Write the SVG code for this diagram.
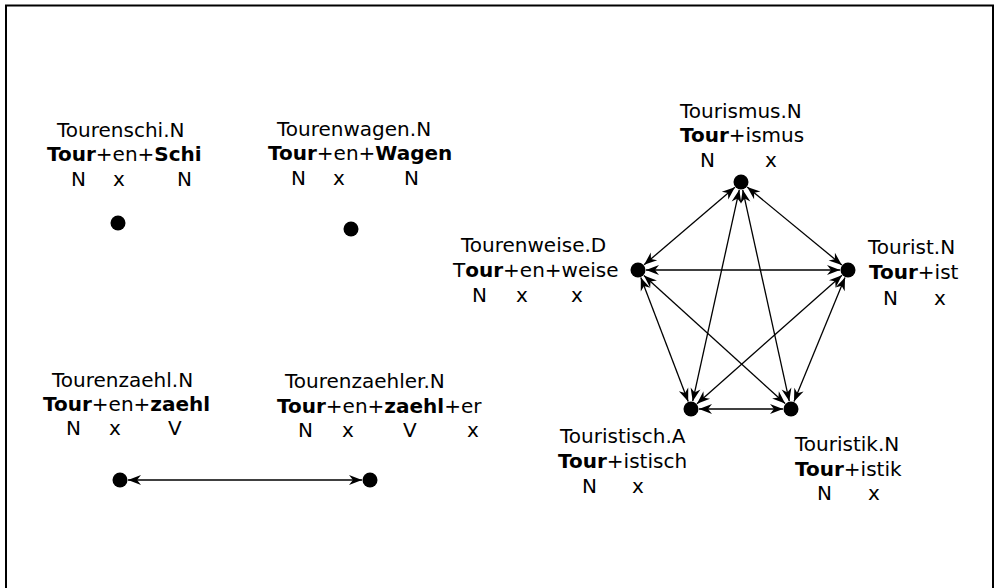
<svg xmlns="http://www.w3.org/2000/svg" width="994" height="588" viewBox="0 0 994 588">
<style>
text{font-family:"DejaVu Sans","Liberation Sans",sans-serif;font-size:20px;fill:#000}
.b{font-weight:bold}
.dot{fill:#000}
.e{stroke:#000;stroke-width:1.3;fill:none;marker-start:url(#ah);marker-end:url(#ah)}
</style>
<defs>
<marker id="ah" viewBox="-15 -7 16 14" markerWidth="16" markerHeight="14" refX="0" refY="0" orient="auto-start-reverse" markerUnits="userSpaceOnUse">
<path d="M0,0 L-13,-5 L-9,0 L-13,5 z" fill="#000"/>
</marker>
</defs>
<rect x="0" y="0" width="994" height="588" fill="#fff"/>
<rect x="6" y="5.5" width="987" height="600" fill="none" stroke="#000" stroke-width="2"/>
<g id="connectors">
<path class="e" d="M734.9,187.2 L644.1,264.8"/>
<path class="e" d="M747.2,187.1 L841.8,264.9"/>
<path class="e" d="M739.3,189.8 L692.7,401.2"/>
<path class="e" d="M742.7,189.8 L789.3,401.2"/>
<path class="e" d="M646,270 L840,270"/>
<path class="e" d="M640.8,277.5 L688.2,401.5"/>
<path class="e" d="M643.9,275.4 L785.1,403.6"/>
<path class="e" d="M842,275.3 L697,403.7"/>
<path class="e" d="M845,277.4 L794,401.6"/>
<path class="e" d="M699,409 L783,409"/>
<path class="e" d="M128,480 L362,480"/>
</g>
<g id="tourenschi">
<circle class="dot" cx="118" cy="223" r="7.5"/>
<text x="57" y="137">Tourenschi.N</text>
<text x="47" y="161"><tspan class="b">Tour</tspan>+en+<tspan class="b">Schi</tspan></text>
<text x="71" y="186">N</text><text x="113" y="186">x</text><text x="177" y="186">N</text>
</g>
<g id="tourenwagen">
<circle class="dot" cx="351" cy="229" r="7.5"/>
<text x="277" y="136">Tourenwagen.N</text>
<text x="268" y="160"><tspan class="b">Tour</tspan>+en+<tspan class="b">Wagen</tspan></text>
<text x="291" y="185">N</text><text x="333" y="185">x</text><text x="404" y="185">N</text>
</g>
<g id="tourenzaehl">
<circle class="dot" cx="120" cy="480" r="7.5"/>
<text x="52" y="387">Tourenzaehl.N</text>
<text x="43" y="411"><tspan class="b">Tour</tspan>+en+<tspan class="b">zaehl</tspan></text>
<text x="66" y="435">N</text><text x="109" y="435">x</text><text x="168" y="435">V</text>
</g>
<g id="tourenzaehler">
<circle class="dot" cx="370" cy="480" r="7.5"/>
<text x="285" y="388">Tourenzaehler.N</text>
<text x="277" y="413"><tspan class="b">Tour</tspan>+en+<tspan class="b">zaehl</tspan>+er</text>
<text x="298" y="437">N</text><text x="342" y="437">x</text><text x="403" y="437">V</text><text x="467" y="437">x</text>
</g>
<g id="tourismus">
<circle class="dot" cx="741" cy="182" r="7.5"/>
<text x="680" y="118">Tourismus.N</text>
<text x="680" y="142"><tspan class="b">Tour</tspan>+ismus</text>
<text x="700" y="167">N</text><text x="765" y="167">x</text>
</g>
<g id="tourenweise">
<circle class="dot" cx="638" cy="270" r="7.5"/>
<text x="461" y="252">Tourenweise.D</text>
<text x="453" y="277">T<tspan class="b">our</tspan>+en+weise</text>
<text x="472" y="302">N</text><text x="516" y="302">x</text><text x="571" y="302">x</text>
</g>
<g id="tourist">
<circle class="dot" cx="848" cy="270" r="7.5"/>
<text x="868" y="254">Tourist.N</text>
<text x="869" y="279"><tspan class="b">Tour</tspan>+ist</text>
<text x="883" y="305">N</text><text x="934" y="305">x</text>
</g>
<g id="touristisch">
<circle class="dot" cx="691" cy="409" r="7.5"/>
<text x="560" y="443">Touristisch.A</text>
<text x="558" y="468"><tspan class="b">Tour</tspan>+istisch</text>
<text x="582" y="493">N</text><text x="632" y="493">x</text>
</g>
<g id="touristik">
<circle class="dot" cx="791" cy="409" r="7.5"/>
<text x="795" y="451">Touristik.N</text>
<text x="795" y="476"><tspan class="b">Tour</tspan>+istik</text>
<text x="817" y="500">N</text><text x="868" y="500">x</text>
</g>
</svg>
